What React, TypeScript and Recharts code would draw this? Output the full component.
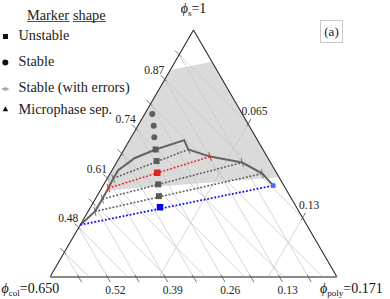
import React from 'react';
import { ScatterChart, Scatter, XAxis, YAxis } from 'recharts';

// corner values of the scaled ternary: phi_s = 1 - phi_col - phi_poly
const COL_MAX = 0.65;
const POLY_MAX = 0.171;

// grid values (every 0.065) and the labelled ones
const phiSGrid = [0.415, 0.48, 0.545, 0.61, 0.675, 0.74, 0.805, 0.87, 0.935];
const phiColGrid = [0.065, 0.13, 0.195, 0.26, 0.325, 0.39, 0.455, 0.52, 0.585];
const phiPolyGrid = [0.065, 0.13];
const phiSLabels = ['0.48', '0.61', '0.74', '0.87'];
const phiColLabels = ['0.52', '0.39', '0.26', '0.13'];
const phiPolyLabels = ['0.13', '0.065'];

// shaded region (phi_col, phi_poly)
const regionCol = [0.105, 0, 0, 0.402, 0.39];
const regionPoly = [0, 0.0219, 0.102, 0.0051, 0];

// binodal curve (phi_col, phi_poly)
const binodalCol = [0.513, 0.462, 0.429, 0.401, 0.377, 0.355, 0.301, 0.243, 0.166, 0.169, 0.129, 0.064, 0.033, 0.024];
const binodalPoly = [0, 0.0041, 0.0042, 0.004, 0.0036, 0.0037, 0.0094, 0.0188, 0.0326, 0.0382, 0.0537, 0.0749, 0.0907, 0.1014];

// tie lines: indices into the binodal
const tieLinks = [[4, 9], [3, 10], [2, 11], [1, 12], [0, 13]];
const tieKinds = ['gray', 'red', 'gray', 'gray', 'blue'];

// sampled compositions
const stableCol = [0.204, 0.216, 0.23];
const stablePoly = [0.0045, 0.0094, 0.0138];
const unstableCol = [0.243, 0.256, 0.283, 0.297];
const unstablePoly = [0.0188, 0.0234, 0.0324, 0.0369];
const redCol = [0.27];
const redPoly = [0.0278];
const blueCol = [0.309];
const bluePoly = [0.0414];

const W = 390;
const HT = 299;
const H = Math.sqrt(3) / 2;
const PX = 287;
const PY = 247 / H;
const X0 = 50;
const Y0 = 277;
const xDomain = [-X0 / PX, (W - X0) / PX];
const yDomain = [-(HT - Y0) / PY, Y0 / PY];
const FONT = '"Liberation Serif", "Times New Roman", serif';

const COLORS: Record<string, string> = { gray: '#5a5a5a', red: '#e42222', blue: '#1010f0' };

type Pt = { x: number; y: number; label?: string; sub?: string; rest?: string };

const toXY = (col: number, poly: number): Pt => {
  const b = col / COL_MAX;
  const c = poly / POLY_MAX;
  const a = 1 - b - c;
  return { x: c + a / 2, y: a * H };
};

const zipPts = (cols: number[], polys: number[]) => cols.map((c, i) => toXY(c, polys[i]));

// gridline ends: first point is the end on the labelled edge
const phiSLine = (v: number): Pt[] => {
  const start = toXY(1 - v, 0);
  if (v >= 1 - POLY_MAX) return [start, toXY(0, 1 - v)];
  const b = (1 - POLY_MAX - v) / (COL_MAX - POLY_MAX);
  return [start, toXY(COL_MAX * b, POLY_MAX * (1 - b))];
};
const phiColLine = (w: number): Pt[] => [toXY(w, POLY_MAX * (1 - w / COL_MAX)), toXY(w, 0)];
const phiPolyLine = (p: number): Pt[] => [toXY(0, p), toXY(COL_MAX * (1 - p / POLY_MAX), p)];

const tickOf = ([edge, other]: Pt[]): Pt[] => {
  const dx = edge.x - other.x;
  const dy = edge.y - other.y;
  const len = Math.hypot(dx, dy);
  const out = 6 / PX;
  const inn = 2.5 / PX;
  return [
    { x: edge.x - (dx / len) * inn, y: edge.y - (dy / len) * inn },
    { x: edge.x + (dx / len) * out, y: edge.y + (dy / len) * out },
  ];
};

const sLines = phiSGrid.map(phiSLine);
const colLines = phiColGrid.map(phiColLine);
const polyLines = phiPolyGrid.map(phiPolyLine);
const gridPts = [...sLines, ...colLines, ...polyLines].flat();
const tickPts = [...sLines, ...colLines, ...polyLines].map(tickOf).flat();

const TOP = toXY(0, 0);
const LEFT = toXY(COL_MAX, 0);
const RIGHT = toXY(0, POLY_MAX);

const binodalPts = zipPts(binodalCol, binodalPoly);
const tiePts = (kind: string) =>
  tieLinks.filter((_, i) => tieKinds[i] === kind).flatMap(([i, j]) => [binodalPts[i], binodalPts[j]]);

const errTicks = (kind: string) =>
  tieLinks
    .filter((_, i) => tieKinds[i] === kind)
    .flatMap(([i, j]) => {
      const a = binodalPts[i];
      const b = binodalPts[j];
      const dx = b.x - a.x;
      const dy = b.y - a.y;
      const len = Math.hypot(dx, dy);
      const e = 4.5 / PX;
      const px = (-dy / len) * e;
      const py = (dx / len) * e;
      return [a, b].flatMap((p) => [
        { x: p.x - px, y: p.y - py },
        { x: p.x + px, y: p.y + py },
      ]);
    });

const sLabelPts = phiSLabels.map((l) => ({ ...phiSLine(Number(l))[0], label: l }));
const colLabelPts = phiColLabels.map((l) => ({ ...phiColLine(Number(l))[0], label: l }));
const polyLabelPts = phiPolyLabels.map((l) => ({ ...phiPolyLine(Number(l))[0], label: l }));

const noShape = () => <g />;

const segLine = (stroke: string, width: number, dash?: string) => (p: any) => {
  const pts = p.points || [];
  let d = '';
  for (let i = 0; i + 1 < pts.length; i += 2) {
    d += `M${pts[i].x},${pts[i].y}L${pts[i + 1].x},${pts[i + 1].y}`;
  }
  return <path d={d} stroke={stroke} strokeWidth={width} strokeDasharray={dash} fill="none" />;
};

const polyFill = (fill: string) => (p: any) => {
  const pts = p.points || [];
  const d = 'M' + pts.map((q: any) => `${q.x},${q.y}`).join('L') + 'Z';
  return <path d={d} fill={fill} stroke="none" />;
};

const textShape = (dx: number, dy: number) => (p: any) => (
  <text x={p.cx + dx} y={p.cy + dy} textAnchor="middle" fontSize={11.5} fontFamily={FONT} fill="#222">
    {p.payload.label}
  </text>
);

const cornerShape = (dx: number, dy: number, anchor: string) => (p: any) => (
  <text x={p.cx + dx} y={p.cy + dy} textAnchor={anchor} fontSize={14} fontFamily={FONT} fill="#111">
    <tspan fontStyle="italic">ϕ</tspan>
    <tspan fontSize={9} dy={3}>{p.payload.sub}</tspan>
    <tspan dy={-3}>{p.payload.rest}</tspan>
  </text>
);

const square = (size: number, fill: string) => (p: any) => (
  <rect x={p.cx - size / 2} y={p.cy - size / 2} width={size} height={size} fill={fill} />
);
const dot = (r: number, fill: string) => (p: any) => <circle cx={p.cx} cy={p.cy} r={r} fill={fill} />;

const Legend = () => (
  <svg width={135} height={125} style={{ position: 'absolute', left: 0, top: 0 }} fontFamily={FONT}>
    <text x={27} y={19.5} fontSize={14.3} fill="#222">Marker</text>
    <line x1={27} x2={69.5} y1={21.5} y2={21.5} stroke="#222" strokeWidth={0.8} />
    <text x={73} y={19.5} fontSize={14.3} fill="#222">shape</text>
    <line x1={73} x2={106} y1={21.5} y2={21.5} stroke="#222" strokeWidth={0.8} />
    <rect x={3} y={34} width={5} height={5} fill="#111" />
    <text x={18.5} y={40} fontSize={14.3} fill="#222">Unstable</text>
    <circle cx={5.3} cy={62.5} r={3} fill="#111" />
    <text x={18.5} y={66} fontSize={14.3} fill="#222">Stable</text>
    <path d="M1,89L5.3,87L9.6,89L5.3,91Z" fill="#a8a8a8" />
    <text x={18.5} y={92} fontSize={14.3} fill="#222">Stable (with errors)</text>
    <path d="M2.6,111.2L5.4,106.2L8.2,111.2Z" fill="#111" />
    <text x={18.5} y={114} fontSize={14.3} fill="#222">Microphase sep.</text>
  </svg>
);

export default function App() {
  return (
    <div style={{ position: 'absolute', left: 0, top: 0, width: W, height: HT, background: '#fff' }}>
      <ScatterChart width={W} height={HT} margin={{ top: 0, right: 0, bottom: 0, left: 0 }}>
        <XAxis type="number" dataKey="x" domain={xDomain} hide allowDataOverflow />
        <YAxis type="number" dataKey="y" domain={yDomain} hide allowDataOverflow />
        <Scatter data={zipPts(regionCol, regionPoly)} line={polyFill('#dadada')} shape={noShape} isAnimationActive={false} />
        <Scatter data={gridPts} line={segLine('#c4c4c4', 0.7)} shape={noShape} isAnimationActive={false} />
        <Scatter data={[LEFT, TOP, TOP, RIGHT]} line={segLine('#2a2a2a', 1.1)} shape={noShape} isAnimationActive={false} />
        <Scatter data={[LEFT, RIGHT]} line={segLine('#8a8a8a', 2.2)} shape={noShape} isAnimationActive={false} />
        <Scatter data={tickPts} line={segLine('#555', 0.8)} shape={noShape} isAnimationActive={false} />
        <Scatter data={binodalPts} line={{ stroke: '#626262', strokeWidth: 2 }} shape={noShape} isAnimationActive={false} />
        <Scatter data={tiePts('gray')} line={segLine(COLORS.gray, 1.6, '1.8 1.8')} shape={noShape} isAnimationActive={false} />
        <Scatter data={tiePts('red')} line={segLine(COLORS.red, 1.6, '1.8 1.8')} shape={noShape} isAnimationActive={false} />
        <Scatter data={tiePts('blue')} line={segLine(COLORS.blue, 1.8, '1.8 1.8')} shape={noShape} isAnimationActive={false} />
        <Scatter data={errTicks('gray')} line={segLine('#666', 0.9)} shape={noShape} isAnimationActive={false} />
        <Scatter data={errTicks('red')} line={segLine(COLORS.red, 1)} shape={noShape} isAnimationActive={false} />
        <Scatter data={[binodalPts[13]]} shape={square(4.5, '#4a6cff')} isAnimationActive={false} />
        <Scatter data={zipPts(stableCol, stablePoly)} shape={dot(3, '#5e5e5e')} isAnimationActive={false} />
        <Scatter data={zipPts(unstableCol, unstablePoly)} shape={square(6, '#5a5a5a')} isAnimationActive={false} />
        <Scatter data={zipPts(redCol, redPoly)} shape={square(6.5, COLORS.red)} isAnimationActive={false} />
        <Scatter data={zipPts(blueCol, bluePoly)} shape={square(6.5, '#0000ee')} isAnimationActive={false} />
        <Scatter data={sLabelPts} shape={textShape(-10.5, -5.5)} isAnimationActive={false} />
        <Scatter data={colLabelPts} shape={textShape(8, 16.5)} isAnimationActive={false} />
        <Scatter data={polyLabelPts} shape={textShape(6.5, -8.5)} isAnimationActive={false} />
        <Scatter data={[{ ...TOP, sub: 's', rest: '=1' }]} shape={cornerShape(0, -17, 'middle')} isAnimationActive={false} />
        <Scatter data={[{ ...LEFT, sub: 'col', rest: '=0.650' }]} shape={cornerShape(-48.5, 16, 'start')} isAnimationActive={false} />
        <Scatter data={[{ ...RIGHT, sub: 'poly', rest: '=0.171' }]} shape={cornerShape(-17, 16, 'start')} isAnimationActive={false} />
      </ScatterChart>
      <Legend />
      <div
        style={{
          position: 'absolute',
          left: 320,
          top: 20,
          width: 21,
          height: 21,
          border: '1px solid #c8c8c8',
          fontFamily: FONT,
          fontSize: 13,
          lineHeight: '21px',
          textAlign: 'center',
          color: '#222',
        }}
      >
        (a)
      </div>
    </div>
  );
}
